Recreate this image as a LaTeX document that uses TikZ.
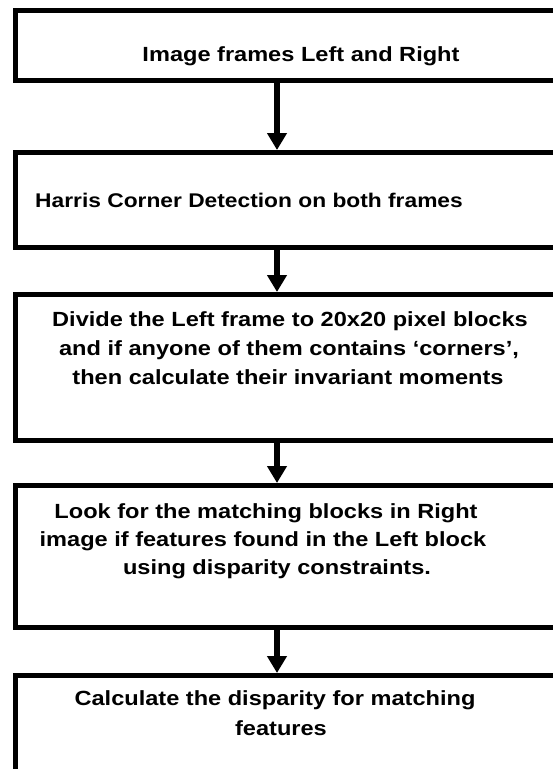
\documentclass[tikz,border=0pt]{standalone}
\usepackage{fontspec}
\setmainfont{Liberation Sans}[FakeStretch=1.15]
\usetikzlibrary{arrows.meta}
\begin{document}
\begin{tikzpicture}[x=1pt, y=-1pt,
    blk/.style={draw, line width=5pt, minimum width=600pt, anchor=north west, inner sep=0pt},
    txt/.style={anchor=base, inner sep=0pt, font=\fontsize{20.5}{28.5}\selectfont\bfseries}]
       \tikzset{>={Triangle[width=19pt,length=17pt]}}
       \useasboundingbox (0,0) rectangle (553,769);
       \clip (0,0) rectangle (553,769);
       \node[blk, minimum height=70.5pt] (b1) at (13,7.5) {};
       \node[blk, minimum height=95pt] (b2) at (13,150) {};
       \node[blk, minimum height=146pt] (b3) at (13,292) {};
       \node[blk, minimum height=141.5pt] (b4) at (13,483) {};
       \node[blk, minimum height=100pt] (b5) at (13,673) {};
       \node[txt] (t1) at (301,61) {Image frames Left and Right};
       \node[txt, anchor=base west, font=\fontsize{19.8}{28.5}\selectfont\bfseries] (t2) at (35,207) {Harris Corner Detection on both frames};
       \node[txt] (t3a) at (290,326) {Divide the Left frame to 20x20 pixel blocks};
       \node[txt] (t3b) at (289,355) {and if anyone of them contains ‘corners’,};
       \node[txt] (t3c) at (288,384) {then calculate their invariant moments};
       \node[txt] (t4a) at (266,518) {Look for the matching blocks in Right};
       \node[txt] (t4b) at (263,546) {image if features found in the Left block};
       \node[txt] (t4c) at (277,574) {using disparity constraints.};
       \node[txt] (t5a) at (275,705) {Calculate the disparity for matching};
       \node[txt] (t5b) at (281,735) {features};
       \coordinate (ax) at (277,0);
       \draw[->, line width=5.5pt] (b1.south -| ax) -- (b2.north -| ax);
       \draw[->, line width=5.5pt] (b2.south -| ax) -- (b3.north -| ax);
       \draw[->, line width=5.5pt] (b3.south -| ax) -- (b4.north -| ax);
       \draw[->, line width=5.5pt] (b4.south -| ax) -- (b5.north -| ax);
   \end{tikzpicture}
\end{document}
